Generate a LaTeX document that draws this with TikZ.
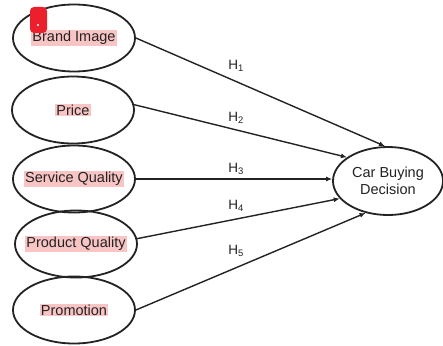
\documentclass[tikz,border=0pt]{standalone}
\usepackage{fontspec}
\setmainfont{Liberation Sans}
\usetikzlibrary{shapes.geometric,arrows.meta}
\definecolor{hl}{RGB}{248,196,196}
\definecolor{ink}{RGB}{35,35,35}
\definecolor{badge}{RGB}{236,32,44}
\begin{document}
\begin{tikzpicture}[x=1pt,y=-1pt,
 oval/.style={ellipse,draw=ink,line width=1.8pt,minimum width=122pt,minimum height=67pt,inner sep=0pt},
 lbl/.style={fill=hl,inner sep=1pt,text=ink,font=\fontsize{14.5}{16}\selectfont},
 arr/.style={draw=ink,line width=1.4pt,-{Latex[length=6pt,width=5pt]}},
 hyp/.style={font=\fontsize{13.5}{15}\selectfont,text=ink,inner sep=0pt}]
\useasboundingbox[fill=white] (0,0) rectangle (443,345);
\node[oval] (bi) at (74,38) {};
\node[oval] (pr) at (73,110) {};
\node[oval] (sq) at (74,179) {};
\node[oval] (pq) at (76,244) {};
\node[oval] (pm) at (74,310) {};
\node[oval,minimum width=110pt,minimum height=68pt] (cbd) at (388,181) {};
\node[lbl] (bit) at (bi) {Brand Image};
\node[lbl] (prt) at (pr) {Price};
\node[lbl] (sqt) at (sq) {Service Quality};
\node[lbl] (pqt) at (pq) {Product Quality};
\node[lbl] (pmt) at (pm) {Promotion};
\node[align=center,text=ink,font=\fontsize{14.5}{17}\selectfont] (cbdt) at (cbd) {Car Buying\\Decision};
\draw[arr] (bi.east) -- (cbd.95);
\draw[arr] (pr.5) -- (cbd.150);
\draw[arr] (sq.east) -- (sq.east -| cbd.west);
\draw[arr] (pq.5) -- (cbd.200);
\draw[arr] (pm.east) -- (cbd.235);
\node[hyp] (h1) at (236,66) {H\textsubscript{1}};
\node[hyp] (h2) at (236,118) {H\textsubscript{2}};
\node[hyp] (h3) at (236,169) {H\textsubscript{3}};
\node[hyp] (h4) at (236,206) {H\textsubscript{4}};
\node[hyp] (h5) at (236,251) {H\textsubscript{5}};
\node[fill=badge,rounded corners=4pt,minimum width=17pt,minimum height=26pt,inner sep=0pt] (bd) at (38.5,20) {};
\fill[white] (38,25) circle (1.2pt);
\end{tikzpicture}
\end{document}
